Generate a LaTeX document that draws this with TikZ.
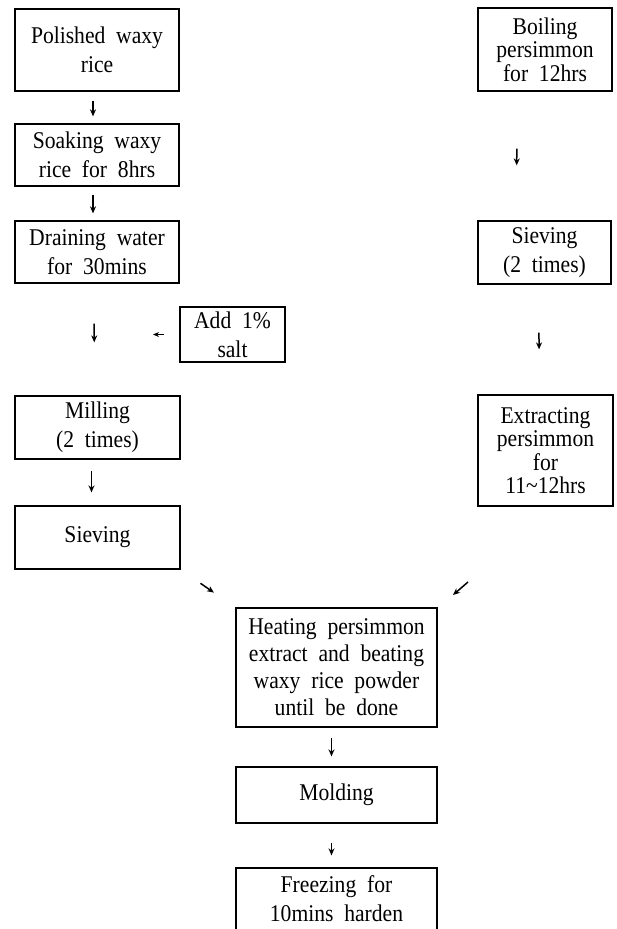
\documentclass[tikz,border=0pt]{standalone}
\usepackage{fontspec}
\setmainfont{Liberation Serif}[FakeStretch=0.9, WordSpace=2]
\usetikzlibrary{arrows.meta}
\tikzset{
  box/.style={draw, line width=1.3pt, inner sep=0pt, align=center,
    font=\fontsize{24}{29}\selectfont},
  tight/.style={font=\fontsize{24}{23.5}\selectfont},
  mid/.style={font=\fontsize{24}{27}\selectfont},
  arr/.style={line width=1.5pt, -{Stealth[length=7pt,width=6pt]}},
}
\begin{document}
\begin{tikzpicture}[x=1pt,y=-1pt]
\useasboundingbox (0,0) rectangle (616,929);
% left column
\node[box, minimum width=164, minimum height=82] (polished) at (97,50) {Polished waxy\\rice};
\node[box, minimum width=164, minimum height=62] (soaking) at (97,155) {Soaking waxy\\rice for 8hrs};
\node[box, minimum width=164, minimum height=62] (draining) at (97,252) {Draining water\\for 30mins};
\node[box, minimum width=105, minimum height=55] (salt) at (232.5,334.5) {Add 1\%\\salt};
\node[box, minimum width=165, minimum height=63] (milling) at (97.5,427.5) {Milling\\(2 times)};
\node[box, minimum width=165, minimum height=63] (sievL) at (97.5,537.5) {Sieving};
% right column
\node[box, tight, minimum width=134, minimum height=83] (boiling) at (545,49.5) {Boiling\\persimmon\\for 12hrs};
\node[box, minimum width=133, minimum height=63] (sievR) at (544.5,252.5) {Sieving\\(2 times)};
\node[box, tight, minimum width=135, minimum height=111] (extract) at (545.5,450.5) {Extracting\\persimmon\\for\\11\textasciitilde12hrs};
% bottom
\node[box, mid, minimum width=201, minimum height=119] (heating) at (336.5,667.5) {Heating persimmon\\extract and beating\\waxy rice powder\\until be done};
\node[box, minimum width=201, minimum height=56] (molding) at (336.5,795) {Molding};
\node[box, minimum width=201, minimum height=62] (freezing) at (336.5,899) {Freezing for\\10mins harden};
% connectors
\draw[arr, shorten <=9pt, shorten >=7pt] ([xshift=-4pt]polished.south) -- ([xshift=-4pt]soaking.north);
\draw[arr, shorten <=8pt, shorten >=7pt] ([xshift=-4pt]soaking.south) -- ([xshift=-4pt]draining.north);
\draw[arr, shorten <=40pt, shorten >=53pt] ([xshift=-3pt]draining.south) -- ([xshift=-3pt]milling.north);
\coordinate (saltend) at (153,334.5);
\draw[line width=1.2pt, -{Stealth[length=6pt,width=5pt]}, shorten <=15pt] (salt.west) -- (saltend);
\draw[arr, shorten <=11pt, shorten >=13pt] ([xshift=-6pt]milling.south) -- ([xshift=-6pt]sievL.north);
\draw[arr, shorten <=57pt, shorten >=55pt] ([xshift=-28pt]boiling.south) -- ([xshift=-28pt]sievR.north);
\draw[arr, shorten <=48pt, shorten >=45pt] ([xshift=-6pt]sievR.south) -- ([xshift=-6pt]extract.north);
\draw[arr, shorten <=24pt, shorten >=26pt] (sievL.south east) -- (heating.north west);
\coordinate (dr1) at (468,582);
\coordinate (dr2) at (453,595);
\draw[arr] (dr1) -- (dr2);
\draw[arr, shorten <=10pt, shorten >=10pt] ([xshift=-5pt]heating.south) -- ([xshift=-5pt]molding.north);
\draw[arr, shorten <=19pt, shorten >=12pt] ([xshift=-5pt]molding.south) -- ([xshift=-5pt]freezing.north);
\end{tikzpicture}
\end{document}
